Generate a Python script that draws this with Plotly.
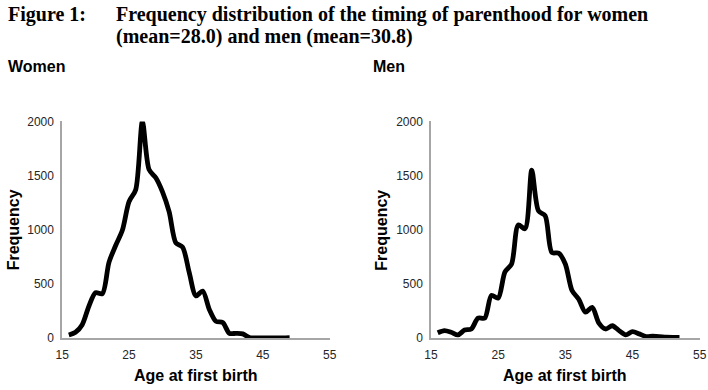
import plotly.graph_objects as go

women_age = list(range(16, 50))
women_freq = [30, 55, 125, 295, 420, 410, 700, 855, 995, 1260, 1370, 2000, 1555, 1480,
              1350, 1165, 880, 840, 605, 390, 435, 265, 155, 145, 45, 45, 40, 5,
              3, 3, 3, 3, 3, 5]
men_age = list(range(16, 53))
men_freq = [50, 70, 55, 30, 75, 85, 185, 185, 395, 370, 610, 685, 1045, 1010, 1550,
            1175, 1130, 790, 785, 685, 440, 360, 240, 285, 140, 85, 115, 70, 30, 60,
            40, 15, 18, 15, 10, 8, 8]
x_ticks = [15, 25, 35, 45, 55]
y_ticks = [0, 500, 1000, 1500, 2000]

W, H = 708, 390
# page body margin (8px) and the photographed page being scaled into the window
OFF = 8
SX, SY = 708 / 724, 390 / 406


def fx(x):
    return max(0.0, (x - OFF) / SX / W)


def fy(y):
    return 1 - (y - OFF) / SY / H


fig = go.Figure()
fig.add_trace(go.Scatter(x=women_age, y=women_freq, mode="lines",
                         line=dict(color="black", width=4.8, shape="spline", smoothing=0.8),
                         xaxis="x", yaxis="y", showlegend=False, hoverinfo="skip"))
fig.add_trace(go.Scatter(x=men_age, y=men_freq, mode="lines",
                         line=dict(color="black", width=4.8, shape="spline", smoothing=0.8),
                         xaxis="x2", yaxis="y2", showlegend=False, hoverinfo="skip"))

tickfont = dict(family="Liberation Sans, Arial", size=12, color="#262626")
ydom = [fy(338), fy(122)]


def xax(dom, anchor):
    return dict(domain=dom, range=[15, 55], tickvals=x_ticks, showgrid=False, zeroline=False,
                showline=True, linecolor="#a6a6a6", linewidth=1.5, ticks="", tickfont=tickfont,
                ticklabelstandoff=5, anchor=anchor, fixedrange=True)


def yax(anchor):
    return dict(domain=ydom, range=[0, 2000], tickvals=y_ticks, showgrid=False, zeroline=False,
                showline=True, linecolor="#a6a6a6", linewidth=1.5, ticks="", tickfont=tickfont,
                ticklabelstandoff=4, anchor=anchor, fixedrange=True)


fig.update_layout(
    width=W, height=H, margin=dict(l=0, r=0, t=0, b=0),
    paper_bgcolor="white", plot_bgcolor="white",
    xaxis=xax([fx(63), fx(330)], "y"),
    yaxis=yax("x"),
    xaxis2=xax([fx(431), fx(699)], "y2"),
    yaxis2=yax("x2"),
)

serif = "Liberation Serif, Times New Roman"
sans = "Liberation Sans, Arial"
ann = []
ann.append(dict(text="<b>Figure 1:</b>", x=fx(3), y=fy(15), xanchor="left", yanchor="middle",
                font=dict(family=serif, size=20, color="black")))
ann.append(dict(text="<b>Frequency distribution of the timing of parenthood for women</b>",
                x=fx(116), y=fy(15), xanchor="left", yanchor="middle",
                font=dict(family=serif, size=20, color="black")))
ann.append(dict(text="<b>(mean=28.0) and men (mean=30.8)</b>",
                x=fx(116), y=fy(37), xanchor="left", yanchor="middle",
                font=dict(family=serif, size=20, color="black")))
ann.append(dict(text="<b>Women</b>", x=fx(7), y=fy(67), xanchor="left", yanchor="middle",
                font=dict(family=sans, size=16, color="black")))
ann.append(dict(text="<b>Men</b>", x=fx(372), y=fy(67), xanchor="left", yanchor="middle",
                font=dict(family=sans, size=16, color="black")))
for cx in [197, 565]:
    ann.append(dict(text="<b>Age at first birth</b>", x=fx(cx), y=fy(375), xanchor="center",
                    yanchor="middle", font=dict(family=sans, size=16, color="black")))
for cx in [14.5, 382]:
    ann.append(dict(text="<b>Frequency</b>", x=fx(cx), y=fy(230), xanchor="center",
                    yanchor="middle", textangle=-90, font=dict(family=sans, size=16, color="black")))
for a in ann:
    a.update(xref="paper", yref="paper", showarrow=False, borderpad=0)
fig.update_layout(annotations=ann)

fig.write_html("out.html")
